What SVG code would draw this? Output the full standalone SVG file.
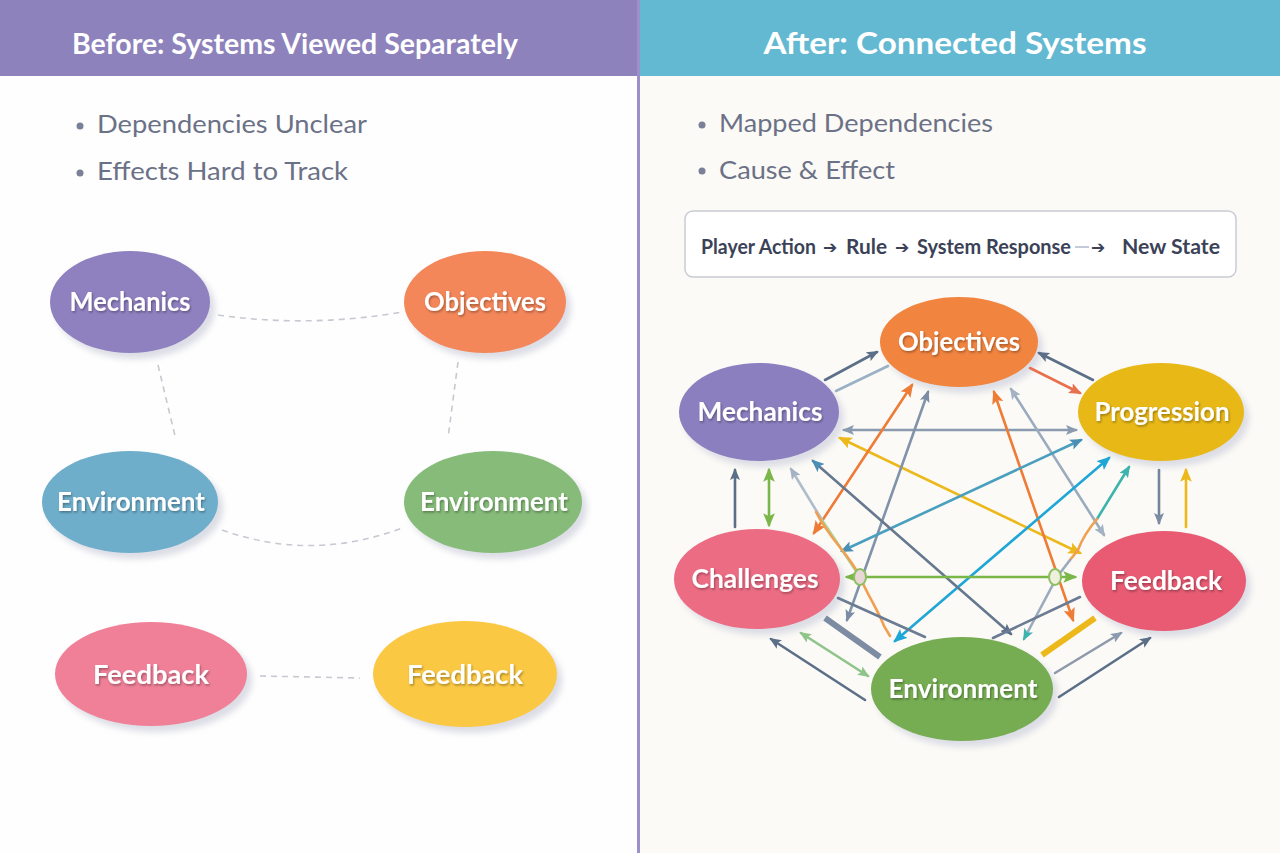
<svg xmlns="http://www.w3.org/2000/svg" width="1280" height="853" viewBox="0 0 1280 853">
<defs>
<style>
.hdr{font-family:Lato,"Open Sans","Liberation Sans",sans-serif;font-weight:700;fill:#fff;text-anchor:middle}
.bul{font-family:Lato,"Open Sans","Liberation Sans",sans-serif;font-size:25px;fill:#6b7186}
.dot{fill:#7a8096}
.lbl{font-family:Lato,"Liberation Sans",sans-serif;font-weight:700;font-size:27px;fill:#fff;text-anchor:middle;filter:url(#ts)}
.sh{fill:#dcdde5;filter:url(#bl)}
.dash{fill:none;stroke:#c6c9d1;stroke-width:1.6;stroke-dasharray:6 5}
.c{fill:none;stroke-width:2.6;stroke-linecap:round}
.flow{font-family:Lato,"Liberation Sans",sans-serif;font-weight:700;font-size:20px;fill:#3b4257}
.arr{font-family:"DejaVu Sans",sans-serif;font-weight:700;font-size:17px}
</style>
<filter id="ts" x="-10%" y="-30%" width="130%" height="170%"><feDropShadow dx="1" dy="1.5" stdDeviation="0.8" flood-color="#000" flood-opacity="0.35"/></filter>
<filter id="bl" x="-20%" y="-20%" width="140%" height="140%"><feGaussianBlur stdDeviation="3"/></filter>
<marker id="m-dk" viewBox="0 0 12 10" refX="10" refY="5" markerWidth="12" markerHeight="10" markerUnits="userSpaceOnUse" orient="auto-start-reverse"><path d="M0,0 L12,5 L0,10 L2.5,5z" fill="#5b6f88"/></marker>
<marker id="m-gy" viewBox="0 0 12 10" refX="10" refY="5" markerWidth="12" markerHeight="10" markerUnits="userSpaceOnUse" orient="auto-start-reverse"><path d="M0,0 L12,5 L0,10 L2.5,5z" fill="#8a9bb0"/></marker>
<marker id="m-lg" viewBox="0 0 12 10" refX="10" refY="5" markerWidth="12" markerHeight="10" markerUnits="userSpaceOnUse" orient="auto-start-reverse"><path d="M0,0 L12,5 L0,10 L2.5,5z" fill="#a3b3c4"/></marker>
<marker id="m-st" viewBox="0 0 12 10" refX="10" refY="5" markerWidth="12" markerHeight="10" markerUnits="userSpaceOnUse" orient="auto-start-reverse"><path d="M0,0 L12,5 L0,10 L2.5,5z" fill="#7b8ca4"/></marker>
<marker id="m-co" viewBox="0 0 12 10" refX="10" refY="5" markerWidth="13" markerHeight="11" markerUnits="userSpaceOnUse" orient="auto-start-reverse"><path d="M0,0 L12,5 L0,10 L2.5,5z" fill="#e9704f"/></marker>
<marker id="m-ye" viewBox="0 0 12 10" refX="10" refY="5" markerWidth="14" markerHeight="12" markerUnits="userSpaceOnUse" orient="auto-start-reverse"><path d="M0,0 L12,5 L0,10 L2.5,5z" fill="#ecb81a"/></marker>
<marker id="m-or" viewBox="0 0 12 10" refX="10" refY="5" markerWidth="14" markerHeight="12" markerUnits="userSpaceOnUse" orient="auto-start-reverse"><path d="M0,0 L12,5 L0,10 L2.5,5z" fill="#ee7b36"/></marker>
<marker id="m-te" viewBox="0 0 12 10" refX="10" refY="5" markerWidth="13" markerHeight="11" markerUnits="userSpaceOnUse" orient="auto-start-reverse"><path d="M0,0 L12,5 L0,10 L2.5,5z" fill="#4a8fb5"/></marker>
<marker id="m-cy" viewBox="0 0 12 10" refX="10" refY="5" markerWidth="14" markerHeight="12" markerUnits="userSpaceOnUse" orient="auto-start-reverse"><path d="M0,0 L12,5 L0,10 L2.5,5z" fill="#1ea7d6"/></marker>
<marker id="m-tq" viewBox="0 0 12 10" refX="10" refY="5" markerWidth="12" markerHeight="10" markerUnits="userSpaceOnUse" orient="auto-start-reverse"><path d="M0,0 L12,5 L0,10 L2.5,5z" fill="#3db3ad"/></marker>
<marker id="m-gr" viewBox="0 0 12 10" refX="10" refY="5" markerWidth="14" markerHeight="12" markerUnits="userSpaceOnUse" orient="auto-start-reverse"><path d="M0,0 L12,5 L0,10 L2.5,5z" fill="#7ab648"/></marker>
<marker id="m-lgr" viewBox="0 0 12 10" refX="10" refY="5" markerWidth="12" markerHeight="10" markerUnits="userSpaceOnUse" orient="auto-start-reverse"><path d="M0,0 L12,5 L0,10 L2.5,5z" fill="#8fc48a"/></marker>
</defs>

<!-- backgrounds -->
<rect x="0" y="0" width="640" height="853" fill="#fefefe"/>
<rect x="640" y="0" width="640" height="853" fill="#fbfaf6"/>
<rect x="0" y="0" width="638" height="76" fill="#8d82bb"/>
<rect x="640" y="0" width="640" height="76" fill="#64b9d2"/>
<line x1="638.5" y1="0" x2="638.5" y2="853" stroke="#9d8fc9" stroke-width="3"/>

<g id="headers">
<text class="hdr" x="295" y="54" font-size="29" textLength="446" lengthAdjust="spacingAndGlyphs">Before: Systems Viewed Separately</text>
<text class="hdr" x="955" y="54" font-size="31" textLength="383" lengthAdjust="spacingAndGlyphs">After: Connected Systems</text>
</g>

<g id="bullets">
<circle class="dot" cx="80" cy="126" r="3.5"/>
<text class="bul" x="97" y="133" textLength="270" lengthAdjust="spacingAndGlyphs">Dependencies Unclear</text>
<circle class="dot" cx="80" cy="173" r="3.5"/>
<text class="bul" x="97" y="180" textLength="251" lengthAdjust="spacingAndGlyphs">Effects Hard to Track</text>
<circle class="dot" cx="702" cy="125" r="3.5"/>
<text class="bul" x="719" y="132" textLength="274" lengthAdjust="spacingAndGlyphs">Mapped Dependencies</text>
<circle class="dot" cx="702" cy="171" r="3.5"/>
<text class="bul" x="719" y="179" textLength="176" lengthAdjust="spacingAndGlyphs">Cause &amp; Effect</text>
</g>

<g id="flow-box">
<rect x="685" y="211" width="551" height="66" rx="8" fill="#fff" stroke="#c9ccd4" stroke-width="1.5"/>
<line x1="1075" y1="247" x2="1089" y2="247" stroke="#c3cad8" stroke-width="2"/>
<text class="flow" y="254"><tspan x="701" textLength="115" lengthAdjust="spacingAndGlyphs">Player Action</tspan><tspan class="arr" x="823" y="253">➔</tspan><tspan x="846" y="254" textLength="41" lengthAdjust="spacingAndGlyphs">Rule</tspan><tspan class="arr" x="895" y="253">➔</tspan><tspan x="917" y="254" textLength="154" lengthAdjust="spacingAndGlyphs">System Response</tspan><tspan class="arr" x="1091" y="253">➔</tspan><tspan x="1122" y="254" textLength="98" lengthAdjust="spacingAndGlyphs">New State</tspan></text>
</g>

<!-- LEFT: separate systems -->
<g id="left-connectors">
<path class="dash" d="M218,315 Q310,328 402,312"/>
<path class="dash" d="M158,365 L176,440"/>
<path class="dash" d="M458,362 L448,438"/>
<path class="dash" d="M222,530 Q312,562 402,528"/>
<path class="dash" d="M260,676 L360,678"/>
</g>

<g id="l-mechanics">
<ellipse class="sh" cx="135" cy="308" rx="80" ry="51"/>
<ellipse cx="130" cy="302" rx="80" ry="51" fill="#8f80c0"/>
<text class="lbl" x="130" y="311" textLength="121" lengthAdjust="spacingAndGlyphs">Mechanics</text>
</g>
<g id="l-objectives">
<ellipse class="sh" cx="490" cy="308" rx="81" ry="51"/>
<ellipse cx="485" cy="302" rx="81" ry="51" fill="#f4875a"/>
<text class="lbl" x="485" y="311" textLength="122" lengthAdjust="spacingAndGlyphs">Objectives</text>
</g>
<g id="l-environment-blue">
<ellipse class="sh" cx="135" cy="508" rx="88" ry="51"/>
<ellipse cx="130" cy="502" rx="88" ry="51" fill="#6eaecb"/>
<text class="lbl" x="131" y="511" textLength="148" lengthAdjust="spacingAndGlyphs">Environment</text>
</g>
<g id="l-environment-green">
<ellipse class="sh" cx="498" cy="508" rx="89" ry="51"/>
<ellipse cx="493" cy="502" rx="89" ry="51" fill="#86bb79"/>
<text class="lbl" x="494" y="511" textLength="148" lengthAdjust="spacingAndGlyphs">Environment</text>
</g>
<g id="l-feedback-pink">
<ellipse class="sh" cx="156" cy="680" rx="96" ry="52"/>
<ellipse cx="151" cy="674" rx="96" ry="52" fill="#f08098"/>
<text class="lbl" x="151" y="684" textLength="116" lengthAdjust="spacingAndGlyphs">Feedback</text>
</g>
<g id="l-feedback-yellow">
<ellipse class="sh" cx="470" cy="680" rx="92" ry="53"/>
<ellipse cx="465" cy="674" rx="92" ry="53" fill="#fbc843"/>
<text class="lbl" x="465" y="684" textLength="116" lengthAdjust="spacingAndGlyphs">Feedback</text>
</g>

<!-- RIGHT: node shadows -->
<g id="r-shadows">
<ellipse class="sh" cx="964" cy="348" rx="79" ry="45"/>
<ellipse class="sh" cx="764" cy="418" rx="80" ry="49"/>
<ellipse class="sh" cx="1166" cy="418" rx="83" ry="49"/>
<ellipse class="sh" cx="762" cy="585" rx="83" ry="50"/>
<ellipse class="sh" cx="1169" cy="587" rx="82" ry="50"/>
<ellipse class="sh" cx="967" cy="695" rx="91" ry="52"/>
</g>

<g id="connectors">
<line class="c" x1="825" y1="380" x2="877" y2="352" stroke="#5b6f88" marker-end="url(#m-dk)"/>
<line class="c" x1="836" y1="391" x2="888" y2="366" stroke="#9ab0c4"/>
<line class="c" x1="1093" y1="380" x2="1039" y2="353" stroke="#5b6f88" marker-end="url(#m-dk)"/>
<line class="c" x1="1030" y1="368" x2="1080" y2="393" stroke="#e9704f" stroke-width="3" marker-end="url(#m-co)"/>
<line class="c" x1="844" y1="430" x2="1076" y2="430" stroke="#8a9bb0" marker-start="url(#m-gy)" marker-end="url(#m-gy)"/>
<line class="c" x1="840" y1="438" x2="1080" y2="553" stroke="#ecb81a" stroke-width="3" marker-start="url(#m-ye)" marker-end="url(#m-ye)"/>
<line class="c" x1="912" y1="385" x2="814" y2="533" stroke="#ee7b36" stroke-width="3" marker-start="url(#m-or)" marker-end="url(#m-or)"/>
<line class="c" x1="928" y1="392" x2="847" y2="620" stroke="#8193aa" marker-start="url(#m-st)" marker-end="url(#m-st)"/>
<line class="c" x1="994" y1="392" x2="1073" y2="620" stroke="#ee7b36" stroke-width="3" marker-start="url(#m-or)" marker-end="url(#m-or)"/>
<line class="c" x1="1011" y1="389" x2="1104" y2="535" stroke="#9aabbd" marker-start="url(#m-lg)" marker-end="url(#m-lg)"/>
<line class="c" x1="1081" y1="440" x2="842" y2="551" stroke="#4a9fbf" marker-start="url(#m-te)" marker-end="url(#m-te)"/>
<line class="c" x1="1109" y1="458" x2="895" y2="641" stroke="#1ea7d6" stroke-width="3" marker-start="url(#m-cy)" marker-end="url(#m-cy)"/>
<line class="c" x1="1097" y1="519" x2="1129" y2="467" stroke="#3db3ad" marker-end="url(#m-tq)"/>
<path class="c" d="M1097,519 Q1084,534 1078,550 L1070,560" stroke="#f0a050" stroke-width="1.8"/>
<path class="c" d="M1070,560 L1057,577 L1024,639" stroke="#9aabbd" stroke-width="1.8" marker-end="url(#m-tq)"/>
<line class="c" x1="1159" y1="470" x2="1159" y2="523" stroke="#7585a0" marker-end="url(#m-st)"/>
<line class="c" x1="1186" y1="527" x2="1186" y2="470" stroke="#ecb81a" stroke-width="3" marker-end="url(#m-ye)"/>
<line class="c" x1="735" y1="527" x2="735" y2="470" stroke="#5b6f88" marker-end="url(#m-dk)"/>
<line class="c" x1="769" y1="470" x2="769" y2="525" stroke="#7ab648" stroke-width="3" marker-start="url(#m-gr)" marker-end="url(#m-gr)"/>
<line class="c" x1="822" y1="520" x2="791" y2="469" stroke="#b0bccb" marker-end="url(#m-lg)"/>
<line class="c" x1="822" y1="520" x2="856" y2="571" stroke="#a8d49a" stroke-width="1.8"/>
<path class="c" d="M816,512 C830,540 850,555 860,577 C868,596 878,610 884,626 L890,636" stroke="#f0a050" stroke-width="1.6"/>
<line class="c" x1="813" y1="461" x2="1011" y2="634" stroke="#66788f" marker-start="url(#m-te)" marker-end="url(#m-dk)"/>
<line class="c" x1="838" y1="598" x2="925" y2="637" stroke="#6b7b93"/>
<line x1="825" y1="618" x2="880" y2="657" stroke="#7d8ca3" stroke-width="6"/>
<line class="c" x1="801" y1="633" x2="868" y2="676" stroke="#8fc48a" marker-start="url(#m-lgr)" marker-end="url(#m-lgr)"/>
<line class="c" x1="865" y1="700" x2="771" y2="639" stroke="#5b6f88" marker-end="url(#m-dk)"/>
<line class="c" x1="1080" y1="597" x2="993" y2="638" stroke="#6b7b93"/>
<line x1="1042" y1="655" x2="1095" y2="618" stroke="#ecb81a" stroke-width="6"/>
<line class="c" x1="1055" y1="673" x2="1121" y2="633" stroke="#8e9aab" marker-end="url(#m-gy)"/>
<line class="c" x1="1059" y1="697" x2="1150" y2="638" stroke="#5b6f88" marker-end="url(#m-dk)"/>
<line class="c" x1="847" y1="577" x2="1075" y2="577" stroke="#7ab648" stroke-width="3" marker-start="url(#m-gr)" marker-end="url(#m-gr)"/>
<ellipse cx="860" cy="577" rx="6" ry="8" fill="#ead6d6" stroke="#8cbf62" stroke-width="2"/>
<ellipse cx="1055" cy="577" rx="6" ry="8" fill="#eef0dc" stroke="#8cbf62" stroke-width="2"/>
</g>

<g id="r-objectives">
<ellipse cx="959" cy="342" rx="79" ry="45" fill="#f1843f"/>
<text class="lbl" x="959" y="351" textLength="122" lengthAdjust="spacingAndGlyphs">Objectives</text>
</g>
<g id="r-mechanics">
<ellipse cx="759" cy="412" rx="80" ry="49" fill="#8c7fc0"/>
<text class="lbl" x="760" y="421" textLength="125" lengthAdjust="spacingAndGlyphs">Mechanics</text>
</g>
<g id="r-progression">
<ellipse cx="1161" cy="412" rx="83" ry="49" fill="#e8b817"/>
<text class="lbl" x="1162" y="421" textLength="135" lengthAdjust="spacingAndGlyphs">Progression</text>
</g>
<g id="r-challenges">
<ellipse cx="757" cy="579" rx="83" ry="50" fill="#ec6c84"/>
<text class="lbl" x="755" y="588" textLength="127" lengthAdjust="spacingAndGlyphs">Challenges</text>
</g>
<g id="r-feedback">
<ellipse cx="1164" cy="581" rx="82" ry="50" fill="#e85b73"/>
<text class="lbl" x="1166" y="590" textLength="112" lengthAdjust="spacingAndGlyphs">Feedback</text>
</g>
<g id="r-environment">
<ellipse cx="962" cy="689" rx="91" ry="52" fill="#76ad52"/>
<text class="lbl" x="963" y="698" textLength="149" lengthAdjust="spacingAndGlyphs">Environment</text>
</g>
</svg>
